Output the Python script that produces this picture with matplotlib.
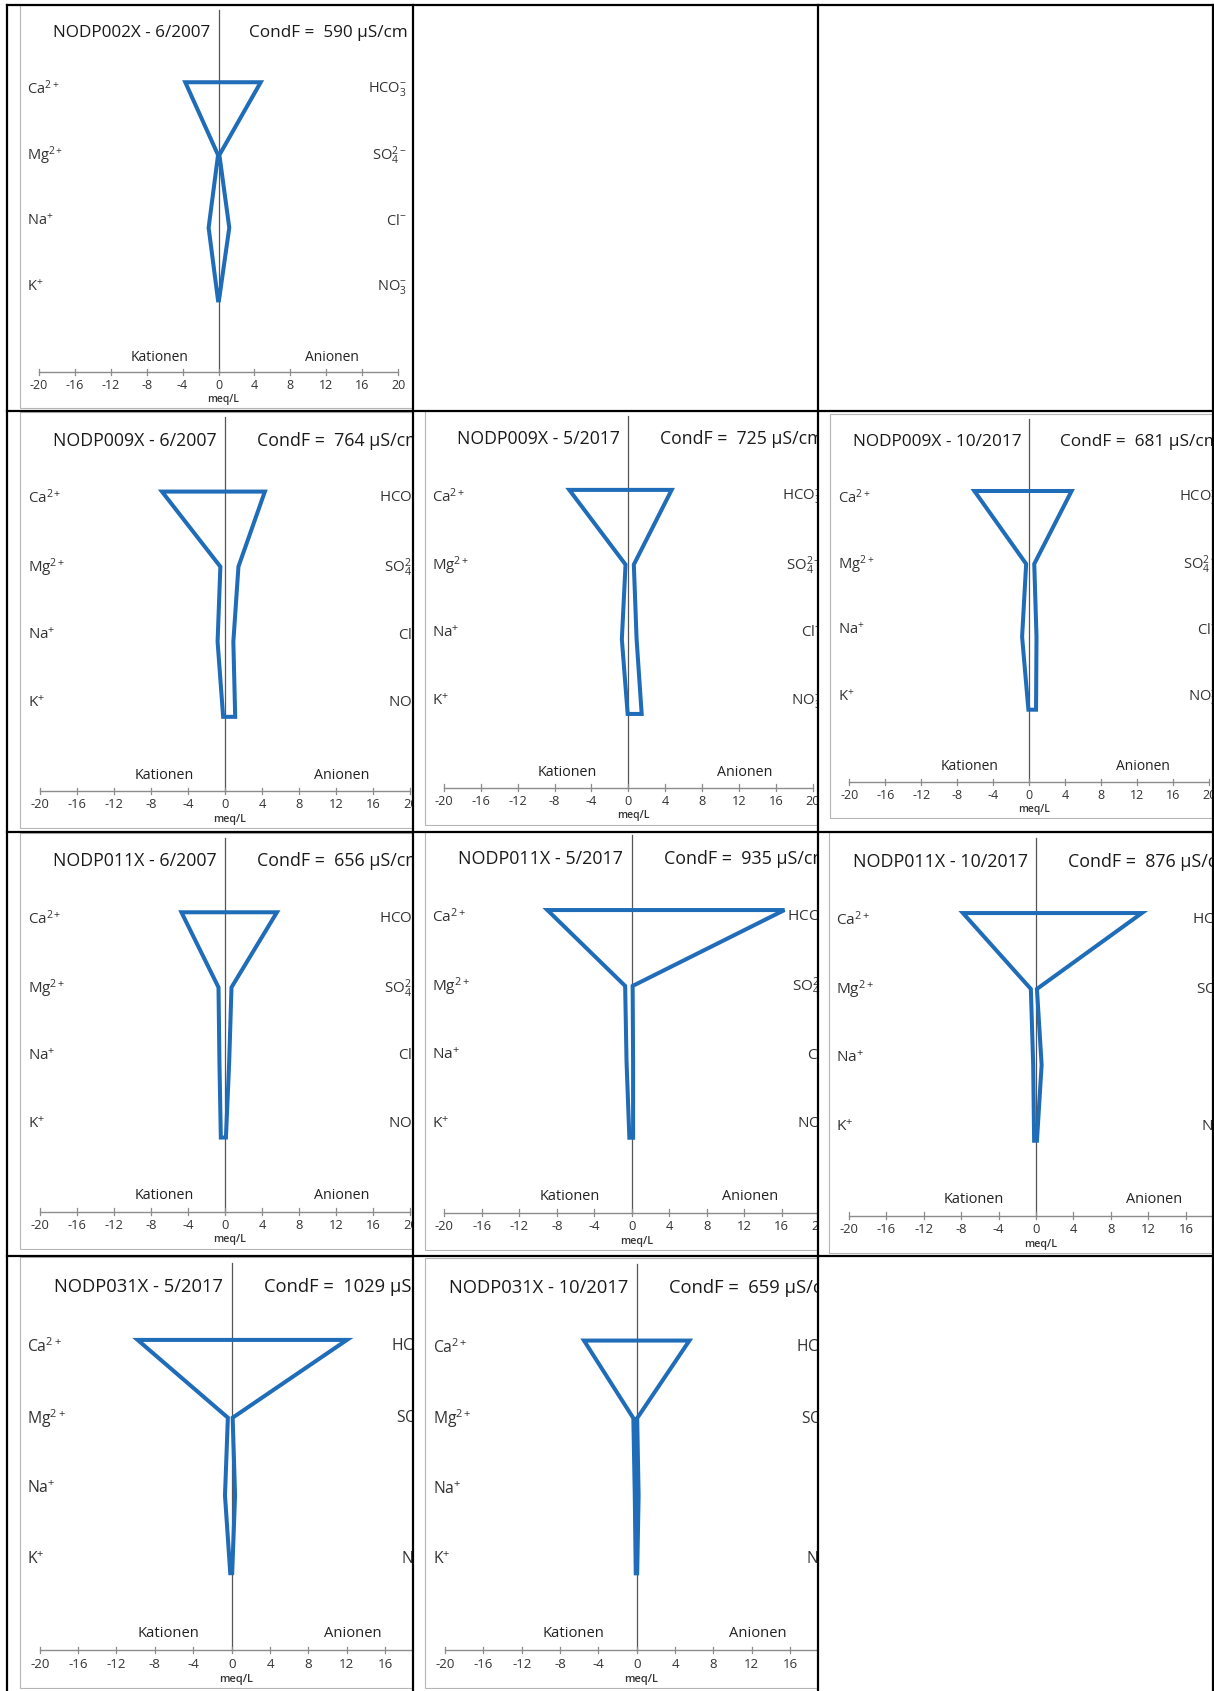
import matplotlib
matplotlib.use("Agg")
import matplotlib.pyplot as plt
from matplotlib.lines import Line2D
from matplotlib.patches import Rectangle, Polygon

plt.rcParams["font.family"] = ["Open Sans", "DejaVu Sans"]
plt.rcParams["mathtext.fontset"] = "custom"
plt.rcParams["mathtext.rm"] = "Open Sans"
plt.rcParams["mathtext.it"] = "Open Sans:italic"
plt.rcParams["mathtext.bf"] = "Open Sans:bold"

W, H, DPI = 1214, 1691, 100

# ---- sample data (meq/L) ----
samples = ["NODP002X - 6/2007", "NODP009X - 6/2007", "NODP009X - 5/2017",
           "NODP009X - 10/2017", "NODP011X - 6/2007", "NODP011X - 5/2017",
           "NODP011X - 10/2017", "NODP031X - 5/2017", "NODP031X - 10/2017"]
condf = [590, 764, 725, 681, 656, 935, 876, 1029, 659]

ca = [3.7, 6.8, 6.4, 6.1, 4.7, 9.0, 7.8, 9.8, 5.5]
mg = [0.05, 0.5, 0.3, 0.35, 0.7, 0.7, 0.55, 0.4, 0.35]
na = [1.1, 0.8, 0.7, 0.8, 0.6, 0.55, 0.3, 0.7, 0.2]
k = [0.05, 0.2, 0.07, 0.1, 0.45, 0.25, 0.2, 0.15, 0.1]

hco3 = [4.7, 4.3, 4.7, 4.7, 5.6, 16.3, 11.3, 12.0, 5.5]
so4 = [0.1, 1.45, 0.6, 0.55, 0.7, 0.1, 0.1, 0.1, 0.05]
cl = [1.2, 0.9, 0.9, 0.8, 0.45, 0.15, 0.6, 0.35, 0.2]
no3 = [0.05, 1.1, 1.45, 0.75, 0.1, 0.15, 0.1, 0.05, 0.05]

cation_labels = ["Ca$^{2+}$", "Mg$^{2+}$", "Na$^{+}$", "K$^{+}$"]
anion_labels = ["HCO$_{3}^{-}$", "SO$_{4}^{2-}$", "Cl$^{-}$", "NO$_{3}^{-}$"]
tick_values = [-20, -16, -12, -8, -4, 0, 4, 8, 12, 16, 20]

# ---- table layout (pixels) ----
col_x = [7, 412.5, 818, 1212.5]
row_y = [5, 411, 831.5, 1255.5, 1691]
cells = [(0, 0), (1, 0), (1, 1), (1, 2), (2, 0), (2, 1), (2, 2), (3, 0), (3, 1)]
# zero position, axis-line position and pixels per meq/L for each diagram
origin_x = [218.5, 225, 628.3, 1029.3, 225, 631.7, 1036, 231.7, 636.7]
origin_y = [372.3, 791, 787.7, 781.7, 1211.7, 1212.7, 1215.7, 1650, 1650]
px_per_unit = [8.98, 9.27, 9.22, 9.0, 9.27, 9.37, 9.37, 9.6, 9.58]

# diagram geometry in meq/L units
ROW_Y = [32.3, 24.2, 16.1, 8.0]
LABEL_Y = [31.6, 24.1, 16.8, 9.45]
FRAME = (-22.1, -4.0, 22.1, 40.9)
BLUE = "#1f6cb8"

fig = plt.figure(figsize=(W / DPI, H / DPI), dpi=DPI)
fig.patch.set_facecolor("white")

for i, (r, c) in enumerate(cells):
    x0, ay, s = origin_x[i], origin_y[i], px_per_unit[i]
    left, right = col_x[c], col_x[c + 1]
    top, bottom = row_y[r], row_y[r + 1]
    il, ir = x0 + FRAME[0] * s - 1, x0 + FRAME[2] * s + 1
    it, ib = ay - FRAME[3] * s - 1, ay - FRAME[1] * s + 1
    vl, vr = max(il, left + 1), min(ir, right - 1)
    vt, vb = max(it, top + 1), min(ib, bottom - 1)
    ax = fig.add_axes([vl / W, 1 - vb / H, (vr - vl) / W, (vb - vt) / H])
    ax.set_xlim((vl - x0) / s, (vr - x0) / s)
    ax.set_ylim((ay - vb) / s, (ay - vt) / s)
    ax.axis("off")

    f = s / 9.0
    ax.add_patch(Rectangle((FRAME[0], FRAME[1]), FRAME[2] - FRAME[0],
                           FRAME[3] - FRAME[1], fill=False, ec="#b5b5b5",
                           lw=0.8, zorder=1))

    # axis and zero line
    ax.plot([-20, 20], [0, 0], color="#8c8c8c", lw=1.0, zorder=2)
    ax.plot([0, 0], [0, 40.3], color="#555555", lw=0.9, zorder=2)
    for t in tick_values:
        ax.plot([t, t], [-0.35, 0.35], color="#8c8c8c", lw=0.9, zorder=2)
        ax.text(t, -1.5, str(t), ha="center", va="center", fontsize=9 * f,
                color="#333333", clip_on=True)
    ax.text(0.5, -3.05, "meq/L", ha="center", va="center", fontsize=7.4 * f,
            color="#333333", fontweight="semibold", clip_on=True)

    ax.text(-6.6, 1.7, "Kationen", ha="center", va="center", fontsize=10 * f,
            color="#222222", clip_on=True)
    ax.text(12.6, 1.7, "Anionen", ha="center", va="center", fontsize=10 * f,
            color="#222222", clip_on=True)

    for lab, ly in zip(cation_labels, LABEL_Y):
        ax.text(-21.3, ly, lab, ha="left", va="center", fontsize=10.6 * f,
                color="#333333", clip_on=True)
    for lab, ly in zip(anion_labels, LABEL_Y):
        ax.text(20.95, ly, lab, ha="right", va="center", fontsize=10.6 * f,
                color="#333333", clip_on=True)

    ax.text(-0.9, 37.8, samples[i], ha="right", va="center", fontsize=12.4 * f,
            color="#1a1a1a", clip_on=True)
    ax.text(3.4, 37.8, f"CondF =  {condf[i]} µS/cm", ha="left", va="center",
            fontsize=12.4 * f, color="#1a1a1a", clip_on=True)

    # Stiff polygon
    xs = [-ca[i], -mg[i], -na[i], -k[i], no3[i], cl[i], so4[i], hco3[i]]
    ys = ROW_Y + ROW_Y[::-1]
    ax.add_patch(Polygon(list(zip(xs, ys)), closed=True, fill=False,
                         ec=BLUE, lw=2.9, joinstyle="miter", zorder=3))

# table grid
for x in col_x:
    fig.add_artist(Line2D([x / W, x / W], [1 - row_y[0] / H, 0],
                          transform=fig.transFigure, color="black", lw=1.6))
for y in row_y[:-1]:
    fig.add_artist(Line2D([col_x[0] / W, col_x[-1] / W], [1 - y / H, 1 - y / H],
                          transform=fig.transFigure, color="black", lw=1.6))

fig.savefig("out.png", dpi=DPI, facecolor="white")
